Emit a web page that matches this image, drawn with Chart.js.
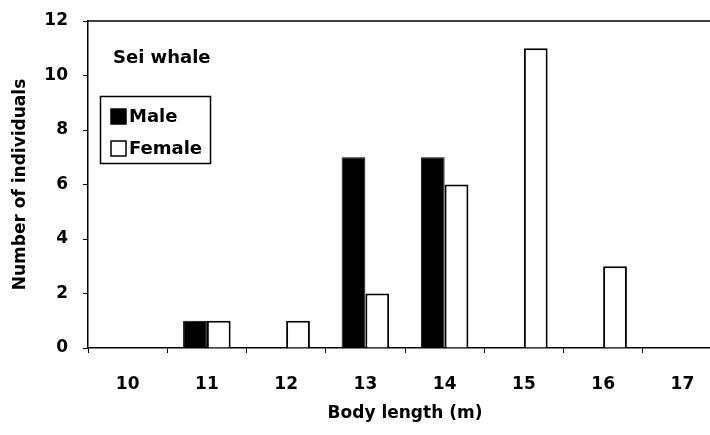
<!DOCTYPE html>
<html>
<head>
<meta charset="utf-8">
<script src="https://cdn.jsdelivr.net/npm/chart.js@4.4.0/dist/chart.umd.min.js"></script>
<style>
  html, body { margin: 0; padding: 0; background: #fff; overflow: hidden; }
  #wrap { width: 722px; height: 435px; }
</style>
</head>
<body>
<div id="wrap"><canvas id="whaleChart" width="722" height="435"></canvas></div>
<script>
const lengths = ["10", "11", "12", "13", "14", "15", "16", "17"];
const maleCounts = [0, 1, 0, 7, 7, 0, 0, 0];
const femaleCounts = [0, 1, 1, 2, 6, 11, 3, 0];
const yTicks = [0, 2, 4, 6, 8, 10, 12];

const fontFamily = "'DejaVu Sans', 'Liberation Sans', sans-serif";

// draws the top frame line, the "Sei whale" note and the boxed legend
const overlayPlugin = {
  id: "overlay",
  afterDatasetsDraw(chart) {
    const ctx = chart.ctx;
    const area = chart.chartArea;
    ctx.save();
    ctx.strokeStyle = "#000";
    ctx.lineWidth = 1.5;
    ctx.beginPath();
    ctx.moveTo(area.left, area.top);
    ctx.lineTo(area.right, area.top);
    ctx.stroke();

    ctx.fillStyle = "#000";
    ctx.textBaseline = "middle";
    ctx.font = "bold 18px " + fontFamily;
    ctx.fillText("Sei whale", 113, 58);

    // legend box
    ctx.lineWidth = 1.5;
    ctx.strokeRect(100.5, 96.5, 110, 67);
    ctx.font = "bold 18px " + fontFamily;
    const rows = [116, 148];
    chart.data.datasets.forEach((ds, i) => {
      const y = rows[i];
      ctx.fillStyle = ds.backgroundColor;
      ctx.fillRect(111, y - 7, 15, 15);
      ctx.strokeStyle = "#000";
      ctx.lineWidth = 1.5;
      ctx.strokeRect(111, y - 7, 15, 15);
      ctx.fillStyle = "#000";
      ctx.fillText(ds.label, 129, y + 1);
    });
    ctx.restore();
  },
};

const ctx = document.getElementById("whaleChart").getContext("2d");
new Chart(ctx, {
  type: "bar",
  data: {
    labels: lengths,
    datasets: [
      {
        label: "Male",
        data: maleCounts,
        backgroundColor: "#000",
        borderColor: "#000",
        borderWidth: 1,
      },
      {
        label: "Female",
        data: femaleCounts,
        backgroundColor: "#fff",
        borderColor: "#000",
        borderWidth: 2,
      },
    ],
  },
  options: {
    responsive: false,
    animation: false,
    categoryPercentage: 0.6,
    barPercentage: 1.0,
    layout: { padding: { top: 21, right: 0, left: 0, bottom: 0 } },
    plugins: {
      legend: { display: false },
      tooltip: { enabled: false },
    },
    scales: {
      x: {
        grid: {
          display: true,
          drawOnChartArea: false,
          drawTicks: true,
          tickLength: 5,
          color: "#000",
          offset: true,
        },
        border: { color: "#000", width: 1.5 },
        ticks: {
          color: "#000",
          padding: 21,
          font: { family: fontFamily, size: 17, weight: "bold" },
        },
        title: {
          display: true,
          text: "Body length (m)",
          color: "#000",
          font: { family: fontFamily, size: 17, weight: "bold" },
          padding: { top: 0, bottom: 11 },
        },
        afterFit(scale) {
          scale.height = 87;
        },
      },
      y: {
        min: 0,
        max: 12,
        afterBuildTicks(scale) {
          scale.ticks = yTicks.map((v) => ({ value: v }));
        },
        grid: {
          display: true,
          drawOnChartArea: false,
          drawTicks: true,
          tickLength: 5,
          color: "#000",
        },
        border: { color: "#000", width: 1.5 },
        ticks: {
          color: "#000",
          padding: 15,
          font: { family: fontFamily, size: 17, weight: "bold" },
        },
        title: {
          display: true,
          text: "Number of individuals",
          color: "#000",
          font: { family: fontFamily, size: 17, weight: "bold" },
          padding: { top: 10, bottom: 0 },
        },
        afterFit(scale) {
          scale.width = 88;
          scale.paddingTop = 8;
        },
      },
    },
  },
  plugins: [overlayPlugin],
});
</script>
</body>
</html>
